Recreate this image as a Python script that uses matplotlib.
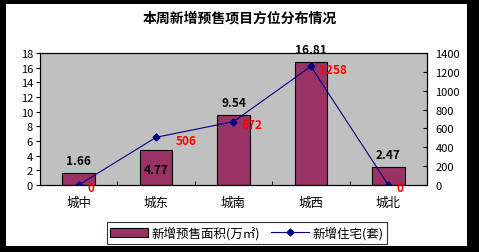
import matplotlib.pyplot as plt
from matplotlib.patches import Rectangle

plt.rcParams['font.family'] = ['Noto Sans CJK SC', 'DejaVu Sans']

districts = ['城中', '城东', '城南', '城西', '城北']
area = [1.66, 4.77, 9.54, 16.81, 2.47]
units = [0, 506, 672, 1258, 0]

fig = plt.figure(figsize=(4.79, 2.53), dpi=100, facecolor='black')
# white chart area inside the black frame
fig.patches.append(Rectangle((6 / 479, 6 / 253), 461 / 479, 242 / 253,
                             transform=fig.transFigure, facecolor='white',
                             edgecolor='none', zorder=-5))

ax = fig.add_axes([40 / 479, 67 / 253, 387 / 479, 132 / 253])
ax.set_zorder(1)
ax.set_facecolor('#C0C0C0')
x = range(len(districts))
ax.bar(x, area, width=0.42, color='#993366', edgecolor='black', linewidth=0.8,
       label='新增预售面积(万㎡)', zorder=2)
ax.set_xlim(-0.5, len(districts) - 0.5)
ax.set_ylim(0, 18)
ax.set_yticks(range(0, 19, 2))
ax.set_xticks(list(x))
ax.set_xticklabels(districts, fontsize=9)
ax.set_xticks([i + 0.5 for i in range(len(districts) - 1)], minor=True)
ax.tick_params(axis='x', which='major', length=0, pad=8)
ax.tick_params(axis='x', which='minor', length=3, direction='in')
ax.tick_params(axis='y', labelsize=8, length=3, pad=2)

bar_offsets = [4, -14, 4, 4, 4]
for i, v in enumerate(area):
    ax.annotate(f'{v:.2f}', (i, v), xytext=(0, bar_offsets[i]),
                textcoords='offset points', ha='center', va='bottom' if bar_offsets[i] > 0 else 'center',
                fontsize=8.5, fontweight='bold', color='black', zorder=5)

ax2 = ax.twinx()
ax2.plot(list(x), units, color='#000080', linewidth=0.8, marker='D',
         markersize=3.5, label='新增住宅(套)', zorder=3)
ax2.set_ylim(0, 1400)
ax2.set_yticks(range(0, 1401, 200))
ax2.tick_params(axis='y', labelsize=8, length=3, direction='in', pad=6)

line_offsets = [6, 14, 6, 6, 6]
for i, v in enumerate(units):
    ax2.annotate(f'{v}', (i, v), xytext=(line_offsets[i], -2),
                 textcoords='offset points', ha='left', va='center',
                 fontsize=8.5, fontweight='bold', color='red', zorder=5)

for a in (ax, ax2):
    for s in a.spines.values():
        s.set_color('black')
        s.set_linewidth(0.8)
ax2.set_zorder(2)
ax2.patch.set_visible(False)

fig.text(0.5, 0.925, '本周新增预售项目方位分布情况', ha='center', va='center',
         fontsize=10, fontweight='bold')

h1, l1 = ax.get_legend_handles_labels()
h2, l2 = ax2.get_legend_handles_labels()
leg = fig.legend(h1 + h2, l1 + l2, loc='center', bbox_to_anchor=(247 / 479, 19 / 253),
                 ncol=2, fontsize=9, frameon=True, fancybox=False, borderpad=0.3,
                 handlelength=3.0, handletextpad=0.3, columnspacing=0.9)
leg.get_frame().set_edgecolor('black')
leg.get_frame().set_linewidth(0.8)

fig.savefig('out.png', dpi=100, facecolor=fig.get_facecolor())
